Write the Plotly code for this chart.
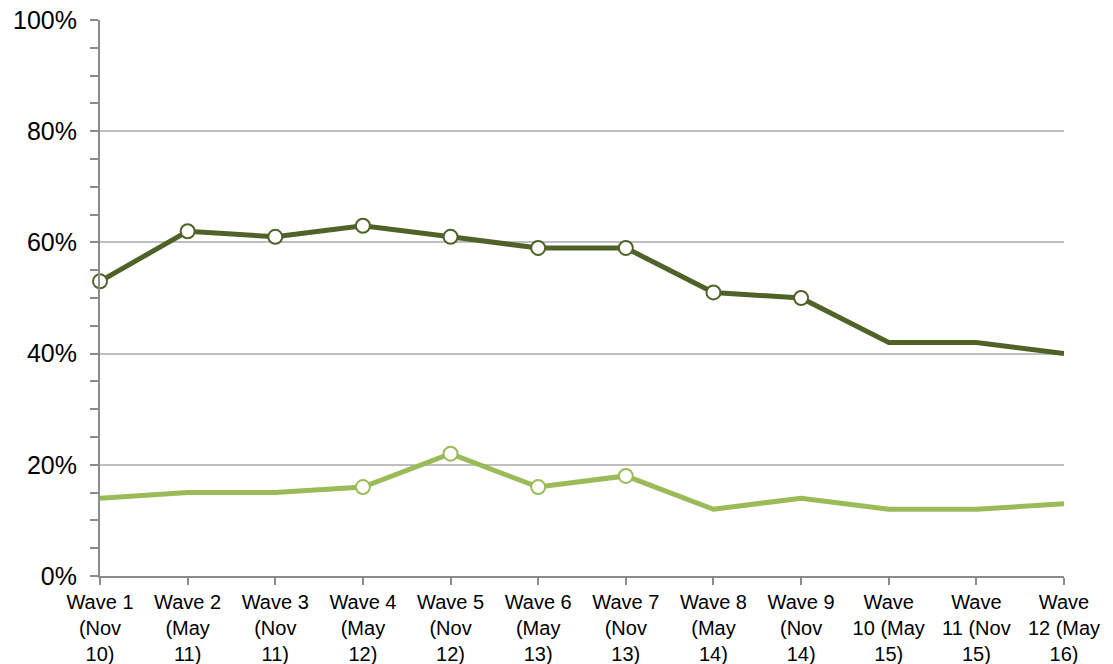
import plotly.graph_objects as go

waves = [
    "Wave 1<br>(Nov<br>10)", "Wave 2<br>(May<br>11)", "Wave 3<br>(Nov<br>11)",
    "Wave 4<br>(May<br>12)", "Wave 5<br>(Nov<br>12)", "Wave 6<br>(May<br>13)",
    "Wave 7<br>(Nov<br>13)", "Wave 8<br>(May<br>14)", "Wave 9<br>(Nov<br>14)",
    "Wave<br>10 (May<br>15)", "Wave<br>11 (Nov<br>15)", "Wave<br>12 (May<br>16)",
]
series_dark = [53, 62, 61, 63, 61, 59, 59, 51, 50, 42, 42, 40]
series_light = [14, 15, 15, 16, 22, 16, 18, 12, 14, 12, 12, 13]
# points that carry an open circle marker
marked_dark = [1, 1, 1, 1, 1, 1, 1, 1, 1, 0, 0, 0]
marked_light = [0, 0, 0, 1, 1, 1, 1, 0, 0, 0, 0, 0]

DARK = "#4F6228"
LIGHT = "#9BBB59"

fig = go.Figure()
for vals, marks, col in [(series_light, marked_light, LIGHT), (series_dark, marked_dark, DARK)]:
    fig.add_trace(go.Scatter(
        x=waves, y=vals, mode="lines",
        line=dict(color=col, width=5),
        cliponaxis=False, showlegend=False, hoverinfo="skip",
    ))
    mx = [w for w, m in zip(waves, marks) if m]
    my = [v for v, m in zip(vals, marks) if m]
    fig.add_trace(go.Scatter(
        x=mx, y=my, mode="markers",
        marker=dict(size=14, color="#FFFFFF", opacity=1,
                    line=dict(color=col, width=2)),
        cliponaxis=False, showlegend=False,
    ))

fig.update_layout(
    width=1113, height=664,
    margin=dict(l=100, r=49, t=20, b=88),
    paper_bgcolor="white", plot_bgcolor="white",
    font=dict(family="Liberation Sans, Arial, sans-serif", color="#000000"),
)
fig.update_xaxes(
    type="category", categoryorder="array", categoryarray=waves,
    range=[0, 11], showgrid=False,
    showline=True, linecolor="#8C8C8C", linewidth=2,
    ticks="outside", ticklen=7, tickcolor="#8C8C8C", tickwidth=2,
    tickfont=dict(size=20), tickangle=0, automargin=False,
)
fig.update_yaxes(
    range=[0, 100], dtick=20, ticksuffix="%",
    showgrid=True, gridcolor="#BFBFBF", gridwidth=1.5,
    showline=True, linecolor="#8C8C8C", linewidth=2,
    ticks="outside", ticklen=8, tickcolor="#8C8C8C", tickwidth=2,
    minor=dict(dtick=5, ticks="outside", ticklen=8, tickcolor="#8C8C8C", tickwidth=2, showgrid=False),
    tickfont=dict(size=25), zeroline=False, automargin=False,
    ticklabelstandoff=8,
)

fig.write_html("out.html")
